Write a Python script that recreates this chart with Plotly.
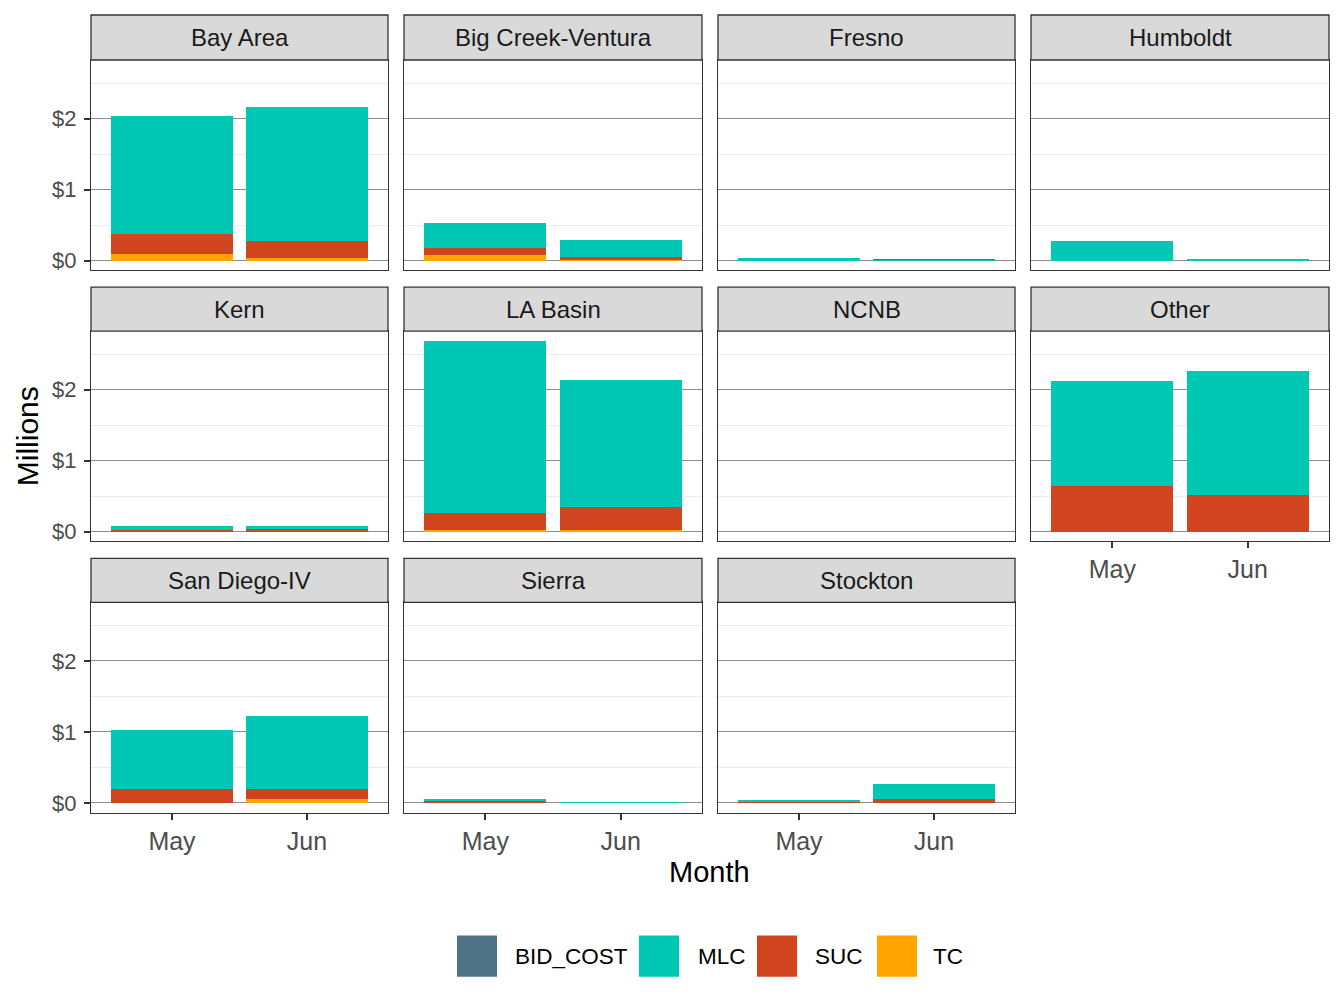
import plotly.graph_objects as go

# ---------------- data (millions of $) ----------------
regions = ["Bay Area", "Big Creek-Ventura", "Fresno", "Humboldt", "Kern", "LA Basin",
           "NCNB", "Other", "San Diego-IV", "Sierra", "Stockton"]
months = ["May", "Jun"]

tc_may = [0.09, 0.075, 0.0, 0.0, 0.0, 0.02, 0.0, 0.0, 0.0, 0.0, 0.0]
tc_jun = [0.03, 0.02, 0.0, 0.0, 0.0, 0.02, 0.0, 0.0, 0.06, 0.0, 0.0]
suc_may = [0.28, 0.10, 0.005, 0.0, 0.02, 0.24, 0.0, 0.64, 0.19, 0.023, 0.01]
suc_jun = [0.245, 0.027, 0.0, 0.0, 0.037, 0.33, 0.0, 0.525, 0.14, 0.0, 0.06]
mlc_may = [1.66, 0.35, 0.028, 0.27, 0.055, 2.43, 0.0, 1.48, 0.84, 0.024, 0.023]
mlc_jun = [1.885, 0.24, 0.012, 0.018, 0.038, 1.79, 0.0, 1.745, 1.02, 0.005, 0.21]
bid_may = [0.0] * 11
bid_jun = [0.0, 0.0, 0.005, 0.0, 0.0, 0.0, 0.0, 0.0, 0.0, 0.0, 0.0]

y_tickvals = [0, 1, 2]
y_ticktext = ["$0", "$1", "$2"]
y_minor = [0.5, 1.5, 2.5]

# stacking order: bottom first
series = [
    ("TC", tc_may, tc_jun, "#FFA400"),
    ("SUC", suc_may, suc_jun, "#D04520"),
    ("MLC", mlc_may, mlc_jun, "#00C8B4"),
    ("BID_COST", bid_may, bid_jun, "#4E7387"),
]

# ---------------- layout geometry (window pixels) ----------------
OFF = 8                      # default page margin around the figure
W, H = 1344 - OFF, 1008 - 2 * OFF
VS = 0.99628                 # small vertical correction
col_x = [(91, 388), (404, 702), (718, 1015), (1031, 1329)]
row_plot = [(60, 270), (331, 541), (602, 812)]
row_strip = [(15, 60), (287, 331), (558, 602)]

FONT = "Liberation Sans, Arial, Helvetica, sans-serif"

totals = [max(tc_may[i] + suc_may[i] + mlc_may[i] + bid_may[i],
              tc_jun[i] + suc_jun[i] + mlc_jun[i] + bid_jun[i]) for i in range(len(regions))]
ymax = max(totals)
pad = 0.05 * ymax
yrange = [-pad, ymax + pad]

def px_x(p):
    return (p - OFF) / W

def px_y(p):
    p = (p - 0.056) / VS
    return 1 - (p - OFF) / H

fig = go.Figure()
shapes = []
annotations = []
layout = {}

for i, reg in enumerate(regions):
    r, c = divmod(i, 4)
    suffix = "" if i == 0 else str(i + 1)
    xa, ya = "x" + suffix, "y" + suffix
    for name, vmay, vjun, color in series:
        fig.add_trace(go.Bar(
            x=months, y=[vmay[i], vjun[i]], name=name,
            marker=dict(color=color, line=dict(width=0)),
            xaxis=xa, yaxis=ya, showlegend=False,
        ))
    x0, x1 = col_x[c]
    y0, y1 = row_plot[r]
    bottom_of_col = (r == 2) or (c == 3 and r == 1)
    layout["xaxis" + suffix] = dict(
        domain=[px_x(x0), px_x(x1)], anchor=ya,
        type="category", categoryorder="array", categoryarray=months,
        range=[-0.6, 1.6], showgrid=False, zeroline=False,
        showline=True, mirror=True, linecolor="#333333", linewidth=1.3,
        ticks="outside" if bottom_of_col else "", ticklen=6, tickwidth=1.5, tickcolor="#333333",
        showticklabels=bottom_of_col,
        tickfont=dict(family=FONT, size=25, color="#4D4D4D"),
        fixedrange=True,
    )
    layout["yaxis" + suffix] = dict(
        domain=[px_y(y1), px_y(y0)], anchor=xa,
        range=yrange, tickmode="array", tickvals=y_tickvals, ticktext=y_ticktext,
        showgrid=True, gridcolor="#8E8E8E", gridwidth=0.9, zeroline=False,
        minor=dict(tickmode="array", tickvals=y_minor, showgrid=True,
                   gridcolor="#EBEBEB", gridwidth=1, ticks=""),
        showline=True, mirror=True, linecolor="#333333", linewidth=1.3,
        ticks="outside" if c == 0 else "", ticklen=6, tickwidth=1.5, tickcolor="#333333",
        showticklabels=(c == 0), ticklabelstandoff=3,
        tickfont=dict(family=FONT, size=22, color="#4D4D4D"),
        fixedrange=True,
    )
    s0, s1 = row_strip[r]
    shapes.append(dict(type="rect", xref="paper", yref="paper",
                       x0=px_x(x0), x1=px_x(x1), y0=px_y(s1), y1=px_y(s0),
                       fillcolor="#D9D9D9", line=dict(color="#333333", width=1.3), layer="above"))
    annotations.append(dict(text=reg, xref="paper", yref="paper",
                            x=px_x((x0 + x1) / 2), y=px_y((s0 + s1) / 2),
                            xanchor="center", yanchor="middle", showarrow=False,
                            font=dict(family=FONT, size=24, color="#1A1A1A")))

# axis titles
annotations.append(dict(text="Month", xref="paper", yref="paper", x=px_x(710), y=px_y(871),
                        xanchor="center", yanchor="middle", showarrow=False,
                        font=dict(family=FONT, size=29, color="#000000")))
annotations.append(dict(text="Millions", xref="paper", yref="paper", x=px_x(27), y=px_y(436),
                        xanchor="center", yanchor="middle", showarrow=False, textangle=-90,
                        font=dict(family=FONT, size=30, color="#000000")))

# custom legend (large keys like ggplot)
legend_items = [("BID_COST", "#4E7387", 457, 513), ("MLC", "#00C8B4", 639, 696),
                ("SUC", "#D04520", 757, 813), ("TC", "#FFA400", 877, 931)]
for name, color, kx, tx in legend_items:
    shapes.append(dict(type="rect", xref="paper", yref="paper",
                       x0=px_x(kx), x1=px_x(kx + 40), y0=px_y(976), y1=px_y(935),
                       fillcolor=color, line=dict(width=0)))
    annotations.append(dict(text=name, xref="paper", yref="paper", x=px_x(tx), y=px_y(956),
                            xanchor="left", yanchor="middle", showarrow=False,
                            font=dict(family=FONT, size=22.5, color="#000000")))

fig.update_layout(
    width=W, height=H, autosize=False,
    margin=dict(l=0, r=0, t=0, b=0),
    paper_bgcolor="white", plot_bgcolor="white",
    barmode="stack", bargap=0.1,
    showlegend=False,
    shapes=shapes, annotations=annotations,
    font=dict(family=FONT),
    **layout,
)

fig.write_html("out.html")
